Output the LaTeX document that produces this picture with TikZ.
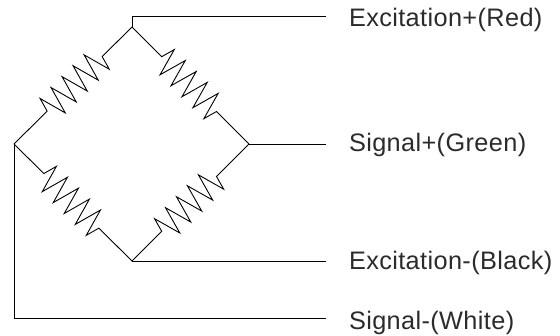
\documentclass[tikz,border=0pt]{standalone}
\usepackage{fontspec}
\setmainfont[LetterSpace=1.5]{Liberation Sans}
\usetikzlibrary{positioning}
\usetikzlibrary{decorations.pathmorphing}
\definecolor{textgray}{rgb}{0.17,0.17,0.17}
\begin{document}
\begin{tikzpicture}[x=1pt,y=-1pt,line width=0.9pt,
	every node/.style={inner sep=0,outer sep=0,font=\fontsize{25.3}{30}\selectfont,text=textgray,anchor=base west},
	res/.style={decorate,decoration={zigzag,segment length=15.5pt,amplitude=14pt,pre length=42pt,post length=44pt}}]
	\useasboundingbox (0,0) rectangle (560,335);
	% bridge corners
	\coordinate (t) at (132,27);
	\coordinate (l) at (14,144);
	\coordinate (r) at (249,144);
	\coordinate (b) at (132,261);
	% wire ends
	\coordinate (w1) at (326,16);
	\coordinate (w2) at (326,144);
	\coordinate (w3) at (326,261);
	\coordinate (w4) at (326,318);
	\node (exr) at (349,26.5) {Excitation+(Red)};
	\node (sgg) at (349,151.5) {Signal+(Green)};
	\node (exb) at (349,269) {Excitation-(Black)};
	\node (sgw) at (349,329.5) {Signal-(White)};
	\draw[res] (t) -- (l);
	\draw[res] (t) -- (r);
	\draw[res] (l) -- (b);
	\draw[res] (b) -- (r);
	\draw (t) |- (w1);
	\draw (r) -- (w2);
	\draw (b) -- (w3);
	\draw (l) |- (w4);
\end{tikzpicture}
\end{document}
